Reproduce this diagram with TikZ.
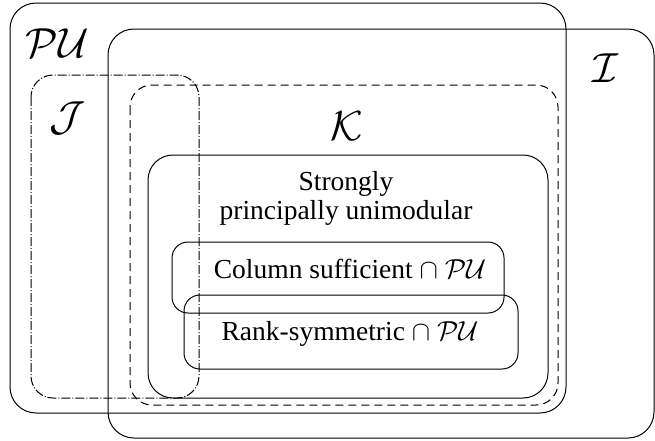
\documentclass[tikz,border=0pt]{standalone}
\usepackage{fix-cm}
\usepackage{fontspec}
\setmainfont{Liberation Serif}
\tikzset{
  setline/.style={line width=1pt, black},
  setname/.style={font=\fontsize{42}{42}\selectfont, inner sep=0pt},
  boxtext/.style={font=\fontsize{27.5}{29}\selectfont, inner sep=0pt, align=center},
  dashdot/.style={setline, dash pattern=on 9pt off 2pt on 1pt off 2pt},
  dashk/.style={setline, dash pattern=on 8pt off 5pt},
}
\begin{document}
\begin{tikzpicture}[x=1pt,y=-1pt]
\useasboundingbox (0,0) rectangle (655,440);
% outer sets
\draw[setline, rounded corners=26pt] (10,3) rectangle (566,413);
\draw[setline, rounded corners=26pt] (108,29) rectangle (654,438);
\draw[dashdot, rounded corners=22pt] (31,75) rectangle (199,398);
\draw[dashk, rounded corners=22pt] (130,85) rectangle (558,405);
% strongly principally unimodular
\draw[setline, rounded corners=25pt] (148,155) rectangle (548,398);
% inner classes
\draw[setline, rounded corners=16pt] (172,242) rectangle (504,313);
\draw[setline, rounded corners=16pt] (184,295) rectangle (518,369);
% labels
\node[setname] (pu) at (57,43) {$\mathcal{PU}$};
\node[setname] (ii) at (605,68) {$\mathcal{I}$};
\node[setname] (jj) at (68,118) {$\mathcal{J}$};
\node[setname] (kk) at (347,126) {$\mathcal{K}$};
\node[boxtext] (spu) at (346,198) {Strongly\\principally unimodular};
\node[boxtext, anchor=base] (cs) at (350,278) {Column sufficient $\cap$ $\mathcal{PU}$};
\node[boxtext, anchor=base] (rs) at (350,340) {Rank-symmetric $\cap$ $\mathcal{PU}$};
\end{tikzpicture}
\end{document}
